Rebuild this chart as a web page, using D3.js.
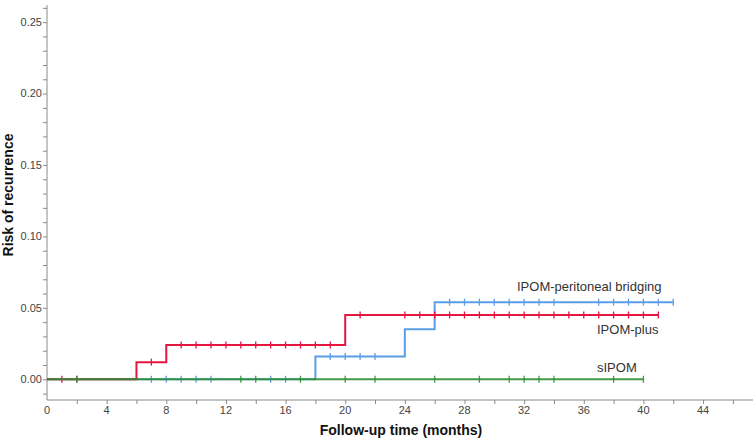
<!DOCTYPE html>
<html><head><meta charset="utf-8">
<script src="https://cdn.jsdelivr.net/npm/d3@7"></script>
<style>body{margin:0;background:#fff}svg{display:block}text{font-family:"Liberation Sans",Arial,sans-serif}</style>
</head><body><svg id="c" width="755" height="440"></svg>
<script>
// ---- data ----
const xTicks = [0,4,8,12,16,20,24,28,32,36,40,44];
const yTicks = [0.00,0.05,0.10,0.15,0.20,0.25];
const seriesNames = ["IPOM-peritoneal bridging","IPOM-plus","sIPOM"];
const blueStepTimes = [0,18,24,26,42];
const blueStepRisk  = [0,0.016,0.035,0.054,0.054];
const blueCensor = [7,8,9,10,11,15,16,19,20,21,22,27,28,29,30,31,32,33,34,37,38,39,40,41,42];
const redStepTimes = [0,6,8,20,41];
const redStepRisk  = [0,0.012,0.024,0.045,0.045];
const redCensor = [1,2,7,9,10,11,12,13,14,15,16,17,18,19,21,24,25,26,27,28,29,30,31,32,33,34,35,36,37,38,39,40,41];
const greenStepTimes = [0,40];
const greenStepRisk  = [0,0];
const greenCensor = [2,13,14,17,20,22,26,29,31,32,33,34,38,40];

const svg = d3.select("#c");
const x = d3.scaleLinear().domain([0,47.35]).range([47,753]);
const y = d3.scaleLinear().domain([-0.0145,0.262]).range([400,5]);
const axisCol = "#8a8a8a", labCol = "#444";

// y axis
const yAx = svg.append("g").attr("transform","translate(47,0)")
  .call(d3.axisLeft(y).tickValues(d3.range(-0.01,0.2601,0.01)).tickSize(4).tickFormat(""));
yAx.select(".domain").attr("d","M0,"+y(0.262)+"V400");
yAx.selectAll("line,path").attr("stroke",axisCol).attr("stroke-width",1);
svg.append("g").selectAll("text").data(yTicks).join("text")
  .attr("x",42).attr("y",d=>y(d)).attr("dy","0.35em").attr("text-anchor","end")
  .attr("font-size",11).attr("fill",labCol).text(d=>d3.format(".2f")(d));

// x axis
const xAx = svg.append("g").attr("transform","translate(0,400)")
  .call(d3.axisBottom(x).tickValues(d3.range(2,47,2)).tickSize(4).tickFormat(""));
xAx.select(".domain").attr("d","M47,0H753");
xAx.selectAll("line,path").attr("stroke",axisCol).attr("stroke-width",1);
svg.append("g").selectAll("text").data(xTicks).join("text")
  .attr("x",d=>x(d)).attr("y",414).attr("text-anchor","middle")
  .attr("font-size",11).attr("fill",labCol).text(d=>d);

// titles
svg.append("text").attr("x",401).attr("y",435).attr("text-anchor","middle")
  .attr("font-size",14).attr("font-weight","bold").attr("fill","#111").text("Follow-up time (months)");
svg.append("text").attr("transform","translate(13,195) rotate(-90)").attr("text-anchor","middle")
  .attr("font-size",14).attr("font-weight","bold").attr("fill","#111").text("Risk of recurrence");

function stepAt(times,risk,t){let v=risk[0];for(let i=0;i<times.length;i++){if(times[i]<=t)v=risk[i];}return v;}
function drawSeries(times,risk,censor,color,op){
  const pts = times.map((t,i)=>[t,risk[i]]);
  svg.append("path").datum(pts)
    .attr("d",d3.line().x(d=>x(d[0])).y(d=>y(d[1])).curve(d3.curveStepAfter))
    .attr("fill","none").attr("stroke",color).attr("stroke-width",2).attr("stroke-opacity",op);
  svg.append("g").selectAll("line").data(censor).join("line")
    .attr("x1",d=>x(d)).attr("x2",d=>x(d))
    .attr("y1",d=>y(stepAt(times,risk,d))-3.5).attr("y2",d=>y(stepAt(times,risk,d))+3.5)
    .attr("stroke",color).attr("stroke-width",1.3).attr("stroke-opacity",op);
}
drawSeries(blueStepTimes,blueStepRisk,blueCensor,"#5b9ee8",1);
drawSeries(redStepTimes,redStepRisk,redCensor,"#e3163f",1);
drawSeries(greenStepTimes,greenStepRisk,greenCensor,"#2f8f33",0.9);

// series labels
const lab = [[517,291],[597,334],[597,372]];
svg.append("g").selectAll("text").data(seriesNames).join("text")
  .attr("x",(d,i)=>lab[i][0]).attr("y",(d,i)=>lab[i][1])
  .attr("font-size",13).attr("fill","#333").text(d=>d);
</script></body></html>
